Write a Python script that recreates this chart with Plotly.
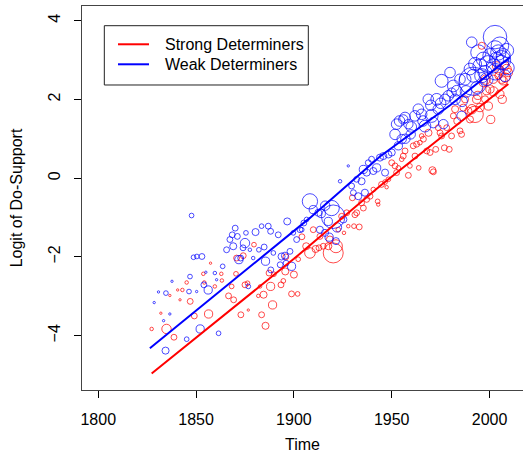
import plotly.graph_objects as go

# ---- Strong determiners (red) observations ----
strong_year = [1827.3, 1832.0, 1834.9, 1836.6, 1838.7, 1840.6, 1843.0, 1845.2, 1841.8, 1847.0,
               1849.1, 1853.7, 1854.2, 1856.4, 1857.4, 1859.6, 1862.9, 1863.2, 1866.6, 1868.2,
               1869.2, 1870.4, 1870.7, 1872.9, 1874.1, 1875.0, 1876.3, 1876.7, 1879.6, 1881.8,
               1882.7, 1883.5, 1884.5, 1885.5, 1887.3, 1888.1, 1889.1, 1889.8, 1893.4, 1894.6,
               1895.6, 1895.9, 1898.8, 1901.9, 1900.0, 1902.2, 1904.1, 1906.3, 1908.2, 1909.9,
               1911.1, 1912.8, 1915.0, 1917.6, 1920.1, 1921.5, 1922.7, 1925.6, 1927.8, 1929.9,
               1931.2, 1930.7, 1933.4, 1935.5, 1937.2, 1940.6, 1942.8, 1943.1, 1946.6, 1947.4,
               1948.3, 1952.5, 1953.4, 1955.9, 1955.1, 1958.5, 1959.3, 1961.9, 1962.7, 1964.4,
               1963.8, 1965.3, 1967.9, 1969.6, 1970.8, 1971.3, 1972.5, 1973.8, 1975.5, 1976.9,
               1979.4, 1980.6, 1981.5, 1983.5, 1984.9, 1985.7, 1989.2, 1990.0, 1992.6, 1995.1,
               1996.0, 1997.7, 1999.4, 2000.6, 2000.2, 2001.9, 2004.5, 2005.3, 2007.0, 2007.9,
               2008.7, 2009.6,
               1950.0, 1951.7, 1956.8, 1961.0, 1966.2, 1968.8, 1974.7, 1978.1, 1982.4, 1986.6,
               1987.5, 1993.4, 1996.8, 1998.5, 2003.6, 2006.2,
               1913.3, 1918.4, 1924.4, 1927.0, 1932.1, 1934.6, 1938.9, 1944.8,
               1991.0, 1994.0, 1998.0, 2002.0, 2005.0, 2008.0, 2006.5]
strong_logit = [-3.83, -3.43, -3.83, -2.98, -4.04, -2.84, -2.84, -2.65, -3.09, -3.13,
                -3.50, -2.43, -2.65, -3.45, -2.16, -2.75, -2.43, -2.60, -2.99, -2.75,
                -3.09, -2.43, -2.03, -3.47, -1.97, -2.71, -2.67, -3.35, -1.69, -2.99,
                -2.75, -3.47, -2.96, -3.75, -2.41, -2.75, -3.22, -2.44, -2.71, -2.61,
                -2.37, -2.00, -2.94, -2.94, -2.45, -2.06, -1.49, -1.73, -1.90, -1.31,
                -1.80, -1.77, -1.73, -1.73, -1.90, -1.73, -1.31, -1.39, -1.22, -0.50,
                -0.93, -1.22, -1.24, -0.76, -0.54, -0.29, -0.59, -0.67, -0.10, -0.23,
                -0.03, 0.14, 0.26, 0.56, 0.48, 0.07, 0.31, 0.56, 0.86, 0.90,
                0.26, 1.07, 0.69, 0.65, 0.20, 0.16, 0.73, 1.28, 1.07, 0.77,
                0.73, 1.07, 1.58, 1.45, 1.20, 1.11, 1.71, 1.49, 1.62, 1.79,
                3.36, 2.00, 1.83, 1.49, 2.26, 2.51, 2.60, 2.13, 2.47, 2.85,
                2.77, 2.68,
                0.39, 0.31, 0.69, 0.82, 0.99, 1.15, 1.15, 1.28, 1.75, 1.79,
                2.00, 2.00, 2.43, 2.22, 2.85, 2.51,
                -1.48, -1.56, -0.97, -0.88, -0.88, -0.63, -0.46, -0.16,
                1.75, 2.10, 2.50, 2.20, 2.75, 2.55, 2.00]
strong_n = [3, 2, 8, 2, 5, 2, 3, 3, 2, 5,
            5, 3, 3, 7, 2, 3, 3, 3, 5, 4,
            5, 4, 5, 5, 5, 5, 4, 2, 4, 3,
            3, 5, 6, 6, 5, 7, 7, 4, 5, 4,
            6, 5, 5, 4, 6, 4, 5, 6, 9, 5,
            6, 5, 5, 6, 17, 11, 4, 3, 3, 5,
            5, 4, 5, 5, 5, 4, 4, 3, 4, 3,
            4, 5, 4, 5, 4, 5, 4, 5, 5, 4,
            4, 4, 5, 5, 6, 5, 5, 5, 5, 5,
            5, 5, 5, 6, 5, 5, 6, 6, 14, 7,
            6, 6, 7, 7, 7, 7, 6, 7, 7, 7,
            8, 7,
            5, 5, 5, 5, 5, 6, 5, 5, 6, 6,
            6, 7, 7, 7, 7, 7,
            5, 6, 5, 5, 5, 5, 5, 5,
            8, 7, 8, 8, 8, 8, 7]

# ---- Weak determiners (blue) observations ----
weak_year = [1828.6, 1830.8, 1833.4, 1834.4, 1834.6, 1836.6, 1837.7, 1845.2, 1846.4, 1846.9,
             1847.7, 1848.7, 1850.4, 1853.0, 1850.3, 1852.1, 1854.0, 1855.0, 1856.2, 1859.6,
             1860.5, 1861.5, 1863.6, 1865.6, 1867.3, 1868.5, 1870.0, 1871.1, 1869.0, 1871.9,
             1872.8, 1874.0, 1875.0, 1875.5, 1876.7, 1877.5, 1879.2, 1880.4, 1882.1, 1883.5,
             1884.8, 1885.5, 1886.9, 1888.1, 1888.2, 1889.5, 1892.0, 1893.0, 1893.7, 1895.4,
             1896.0, 1896.6, 1898.0, 1898.8, 1899.7, 1901.4, 1903.1, 1904.0, 1905.1, 1906.5,
             1908.2, 1909.9, 1912.5, 1913.3, 1915.9, 1917.6, 1919.3, 1920.1, 1923.6, 1925.3,
             1927.8, 1929.5, 1930.4, 1932.1, 1932.9, 1934.6, 1935.5, 1936.3, 1937.2, 1938.0,
             1939.7, 1940.6, 1942.3, 1944.0, 1945.7, 1946.6, 1948.3, 1950.0, 1951.7, 1952.5,
             1953.4, 1955.1, 1955.9, 1956.8, 1958.5, 1959.7, 1961.9, 1963.6, 1965.3, 1967.0,
             1968.7, 1970.4, 1971.3, 1973.0, 1973.8, 1975.5, 1976.4, 1977.2, 1978.9, 1979.8,
             1980.6, 1981.5, 1982.4, 1983.2, 1984.9, 1985.7, 1987.5, 1991.6, 1990.0, 1990.9,
             1991.7, 1992.6, 1994.3, 1995.1, 1996.8, 1997.7, 1998.5, 2000.2, 2002.8, 2001.9,
             2002.8, 2003.6, 2004.5, 2005.3, 2006.2, 2007.0, 2007.9, 2008.7,
             1993.4, 1996.0, 1999.0, 2003.0, 2006.0, 2009.0, 1988.0, 1986.0, 1975.0, 1970.0,
             1966.0, 1960.0, 1957.0, 1954.0, 1914.0, 1916.0, 1922.0, 1918.0, 1921.5]
weak_logit = [-3.16, -2.89, -3.62, -4.38, -2.92, -3.45, -2.62, -4.09, -2.88, -2.50,
              -0.95, -2.01, -1.99, -1.99, -2.88, -3.83, -2.71, -2.39, -2.84, -2.41,
              -2.58, -3.94, -2.24, -1.82, -1.56, -1.44, -1.27, -1.48, -1.73, -2.07,
              -2.03, -1.77, -1.65, -1.39, -2.75, -1.82, -2.03, -1.37, -1.82, -1.22,
              -1.75, -2.11, -1.22, -1.35, -2.33, -1.90, -1.44, -2.20, -1.99, -1.97,
              -2.16, -1.10, -1.86, -2.24, -1.39, -1.56, -1.31, -1.31, -1.14, -1.05,
              -0.59, -0.80, -0.88, -1.31, -1.39, -1.10, -0.76, -0.98, -0.08, -1.05,
              0.31, -0.20, -0.37, -0.03, -0.46, -0.08, 0.22, -0.37, 0.14, 0.39,
              0.48, 0.18, 0.26, 0.52, 0.56, 0.14, 0.60, 0.65, 1.11, 1.37,
              0.82, 0.99, 1.49, 1.54, 1.37, 1.11, 1.58, 1.75, 1.62, 1.32,
              2.00, 1.58, 1.41, 2.00, 1.75, 2.47, 1.37, 2.00, 2.09, 2.68,
              2.17, 2.34, 2.00, 2.22, 2.51, 1.58, 2.51, 2.46, 2.77, 3.45,
              2.60, 2.90, 3.19, 2.85, 3.02, 2.68, 2.51, 3.11, 3.58, 2.85,
              3.28, 3.02, 3.19, 3.36, 2.94, 3.11, 2.60, 3.24,
              2.30, 2.60, 2.90, 2.70, 3.00, 2.80, 2.20, 1.95, 1.90, 1.85,
              1.45, 1.30, 1.00, 1.45, -0.90, -0.70, -1.25, -1.50, -1.60]
weak_n = [2, 2, 2, 6, 4, 2, 2, 4, 4, 4,
          4, 4, 4, 5, 2, 7, 5, 2, 7, 3,
          2, 4, 4, 5, 5, 5, 5, 5, 6, 7,
          5, 5, 8, 4, 4, 3, 3, 6, 4, 4,
          5, 7, 5, 5, 5, 4, 5, 5, 6, 6,
          5, 6, 5, 7, 4, 5, 5, 4, 5, 4,
          13, 7, 6, 6, 6, 7, 13, 20, 3, 6,
          2, 5, 5, 5, 6, 6, 7, 6, 6, 5,
          5, 6, 7, 6, 6, 6, 6, 6, 9, 9,
          7, 8, 8, 9, 8, 8, 9, 9, 9, 10,
          9, 11, 9, 10, 9, 11, 8, 9, 9, 9,
          8, 10, 9, 9, 9, 8, 10, 24, 10, 9,
          11, 11, 13, 12, 12, 12, 11, 12, 20, 12,
          14, 12, 13, 15, 12, 12, 10, 12,
          10, 12, 14, 14, 16, 12, 10, 9, 9, 9,
          9, 9, 8, 9, 7, 8, 8, 7, 6]

# ---- fitted trend lines ----
strong_fit_year = [1827.3, 1900.0, 1944.0, 2009.6]
strong_fit_logit = [-4.96, -2.05, -0.20, 2.39]
weak_fit_year = [1826.4, 1908.2, 1944.0, 1979.8, 2010.4]
weak_fit_logit = [-4.32, -1.01, 0.55, 1.85, 3.07]

x_ticks = [1800, 1850, 1900, 1950, 2000]
y_ticks = [-4, -2, 0, 2, 4]
legend_labels = ["Strong Determiners", "Weak Determiners"]

RED = "#ff0000"
BLUE = "#0000ff"
FONT = "Liberation Sans, Arial, sans-serif"

fig = go.Figure()
fig.add_trace(go.Scatter(x=strong_year, y=strong_logit, mode="markers", showlegend=False,
                         marker=dict(symbol="circle-open", size=strong_n, sizeref=0.85,
                                     color=RED, line=dict(width=1, color=RED))))
fig.add_trace(go.Scatter(x=weak_year, y=weak_logit, mode="markers", showlegend=False,
                         marker=dict(symbol="circle-open", size=weak_n, sizeref=0.85,
                                     color=BLUE, line=dict(width=1, color=BLUE))))
fig.add_trace(go.Scatter(x=strong_fit_year, y=strong_fit_logit, mode="lines",
                         name=legend_labels[0], showlegend=False,
                         line=dict(color=RED, width=2)))
fig.add_trace(go.Scatter(x=weak_fit_year, y=weak_fit_logit, mode="lines",
                         name=legend_labels[1], showlegend=False,
                         line=dict(color=BLUE, width=2)))

# R-style boxed legend (paper coordinates)
lx0, lx1, ly0, ly1 = 0.0506, 0.5132, 0.7943, 0.9487
shapes = [dict(type="rect", xref="paper", yref="paper", x0=lx0, x1=lx1, y0=ly0, y1=ly1,
               line=dict(color="#222222", width=1), fillcolor="white", layer="above")]
annotations = []
for lab, col, yy in zip(legend_labels, [RED, BLUE], [0.9003, 0.8482]):
    shapes.append(dict(type="line", xref="paper", yref="paper", x0=0.0816, x1=0.1519,
                       y0=yy, y1=yy, line=dict(color=col, width=2), layer="above"))
    annotations.append(dict(text=lab, xref="paper", yref="paper", x=0.1837, y=yy,
                            xanchor="left", yanchor="middle", showarrow=False,
                            font=dict(size=16, color="#000000")))

fig.update_layout(
    width=523, height=453,
    margin=dict(l=82, r=0, t=6, b=63),
    paper_bgcolor="white", plot_bgcolor="white",
    font=dict(family=FONT, size=16, color="#000000"),
    showlegend=False,
    shapes=shapes, annotations=annotations,
)
fig.update_xaxes(range=[1791.7, 2017.1], tickvals=x_ticks, ticks="outside", ticklen=7,
                 tickcolor="#000000", showline=True, linecolor="#444444", linewidth=1,
                 mirror=True, showgrid=False, zeroline=False, ticklabelstandoff=8,
                 title=dict(text="Time", standoff=14, font=dict(size=16)), automargin=False)
fig.update_yaxes(range=[-5.38, 4.37], tickvals=y_ticks, ticks="outside", ticklen=7,
                 tickcolor="#000000", showline=True, linecolor="#444444", linewidth=1,
                 mirror=False, showgrid=False, zeroline=False, tickangle=-90,
                 ticklabelstandoff=8,
                 title=dict(text="Logit of Do-Support", standoff=18, font=dict(size=16)),
                 automargin=False)

fig.write_html("out.html")
